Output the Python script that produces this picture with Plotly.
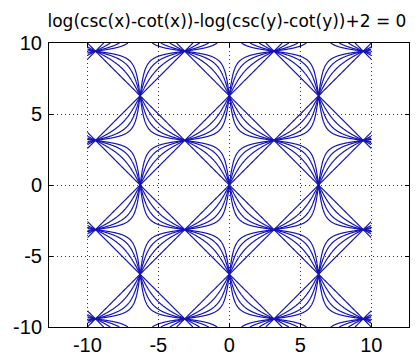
import numpy as np
import plotly.graph_objects as go

# Equation plotted: log(csc(x)-cot(x)) - log(csc(y)-cot(y)) + c = 0, for several c
c_values = [0, 2/3, 4/3, 2]
x_domain = [-10, 10]
y_domain = [-10, 10]
x_ticks = [-10, -5, 0, 5, 10]
y_ticks = [-10, -5, 0, 5, 10]
tick_text = ["-10", "-5", "0", "5", "10"]
title_text = "log(csc(x)-cot(x))-log(csc(y)-cot(y))+2 = 0"

n = 600
xs = np.linspace(x_domain[0], x_domain[1], n)
ys = np.linspace(y_domain[0], y_domain[1], n)
X, Y = np.meshgrid(xs, ys)
with np.errstate(divide="ignore", invalid="ignore"):
    tx = np.abs(1/np.sin(X) - 1/np.tan(X))
    ty = np.abs(1/np.sin(Y) - 1/np.tan(Y))
    Z = np.log(ty) - np.log(tx)
Z = np.clip(np.nan_to_num(Z, nan=0.0, posinf=30, neginf=-30), -30, 30)

col = "#1414b4"
fig = go.Figure()
for c in c_values:
    fig.add_trace(go.Contour(
        x=xs, y=ys, z=Z,
        contours=dict(start=c, end=c, size=1, coloring="lines", showlabels=False),
        colorscale=[[0, col], [1, col]], showscale=False,
        line=dict(width=1.2), hoverinfo="skip"))

axis_common = dict(
    showline=True, linecolor="black", linewidth=1, mirror="ticks",
    ticks="inside", ticklen=4, tickcolor="black", automargin=False,
    showgrid=True, gridcolor="#333333", griddash="1px,3px", gridwidth=1,
    zeroline=False, tickfont=dict(family="Liberation Sans, Arial", size=20, color="black"),
)
fig.update_layout(
    width=418, height=356,
    margin=dict(l=49, r=9, t=43, b=29),
    paper_bgcolor="white", plot_bgcolor="white",
    showlegend=False,
    title=dict(text=title_text, x=0.543, xanchor="center", y=0.94, yanchor="middle",
               font=dict(family="DejaVu Sans", size=17, color="black"), automargin=False),
    xaxis=dict(range=[-12.7, 12.65], tickvals=x_ticks, ticktext=tick_text,
               ticklabelstandoff=0, **axis_common),
    yaxis=dict(range=[-10, 10], tickvals=y_ticks, ticktext=tick_text,
               ticklabelstandoff=2, **axis_common),
)
fig.write_html("out.html")
